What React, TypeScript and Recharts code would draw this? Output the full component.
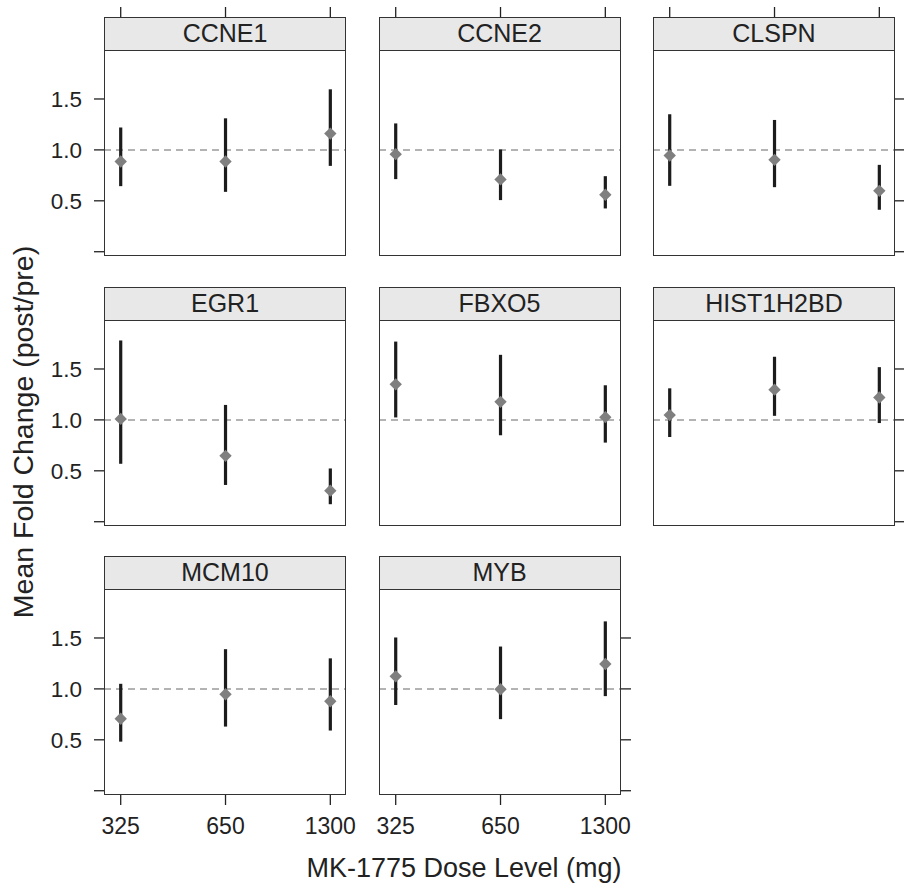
import React from "react";
import { ComposedChart, Scatter, ErrorBar, XAxis, YAxis, ReferenceLine } from "recharts";

const doses = [325, 650, 1300];
const genes = ["CCNE1", "CCNE2", "CLSPN", "EGR1", "FBXO5", "HIST1H2BD", "MCM10", "MYB"];
const means = [
  [0.886, 0.886, 1.16],
  [0.958, 0.71, 0.559],
  [0.945, 0.902, 0.598],
  [1.01, 0.647, 0.305],
  [1.349, 1.177, 1.027],
  [1.047, 1.297, 1.22],
  [0.707, 0.948, 0.878],
  [1.123, 0.997, 1.245],
];
const lower = [
  [0.644, 0.588, 0.843],
  [0.713, 0.507, 0.425],
  [0.647, 0.634, 0.412],
  [0.569, 0.361, 0.172],
  [1.024, 0.849, 0.777],
  [0.832, 1.04, 0.969],
  [0.482, 0.63, 0.591],
  [0.842, 0.703, 0.929],
];
const upper = [
  [1.22, 1.31, 1.595],
  [1.26, 1.004, 0.742],
  [1.35, 1.294, 0.853],
  [1.78, 1.147, 0.523],
  [1.769, 1.639, 1.34],
  [1.31, 1.62, 1.518],
  [1.05, 1.39, 1.3],
  [1.505, 1.416, 1.663],
];
const yTicks = [0, 0.5, 1, 1.5];

const FONT = '"Liberation Sans", Arial, Helvetica, sans-serif';
const colLeft = [104, 378.5, 653];
const rowTop = [50, 319.6, 589.2];
const PW = 242;
const PH = 206;
const STRIP = 33;
const AX_L = 70;
const AX_R = 30;
const AX_T = 45;
const AX_B = 50;

const Diamond = (p: any) => {
  const { cx, cy } = p;
  if (cx == null || cy == null) return null;
  const r = 6.2;
  return <polygon points={`${cx},${cy - r} ${cx + r},${cy} ${cx},${cy + r} ${cx - r},${cy}`} fill="#7f7f7f" />;
};

function Panel({ idx }: { idx: number }) {
  const row = Math.floor(idx / 3);
  const col = idx % 3;
  const L = colLeft[col];
  const T = rowTop[row];
  const showLeft = col === 0;
  const showRight = col === 2 || idx === genes.length - 1;
  const showTop = row === 0;
  const showBottom = row === 2;
  const data = doses.map((d, i) => ({
    dose: d,
    mean: means[idx][i],
    err: [means[idx][i] - lower[idx][i], upper[idx][i] - means[idx][i]],
  }));
  const topTick = (p: any) => (
    <line x1={p.x} x2={p.x} y1={AX_T - STRIP - 10} y2={AX_T - STRIP} stroke="#222" strokeWidth={1.3} />
  );
  const rightTick = (p: any) => (
    <line x1={AX_L + PW} x2={AX_L + PW + 10} y1={p.y} y2={p.y} stroke="#222" strokeWidth={1.3} />
  );
  return (
    <>
      <div style={{ position: "absolute", left: L - AX_L, top: T - AX_T }}>
        <ComposedChart width={AX_L + PW + AX_R} height={AX_T + PH + AX_B} data={data}
          margin={{ top: 0, right: 0, bottom: 0, left: 0 }}>
          <XAxis xAxisId="b" dataKey="dose" type="number" scale="log" domain={[291, 1442]} allowDataOverflow
            ticks={doses} orientation="bottom" height={AX_B} axisLine={false}
            tickLine={showBottom ? { stroke: "#222", strokeWidth: 1.3 } : false} tickSize={10} tickMargin={13}
            tick={showBottom ? { fontSize: 23, fill: "#222" } : false} interval={0} />
          <XAxis xAxisId="t" dataKey="dose" type="number" scale="log" domain={[291, 1442]} allowDataOverflow
            ticks={doses} orientation="top" height={AX_T} axisLine={false} tickLine={false}
            tick={showTop ? topTick : false} interval={0} />
          <YAxis yAxisId="l" type="number" domain={[-0.042, 1.981]} allowDataOverflow ticks={yTicks}
            width={AX_L} axisLine={false} tickSize={10} tickMargin={12} interval={0}
            tickLine={showLeft ? { stroke: "#222", strokeWidth: 1.3 } : false}
            tick={showLeft ? { fontSize: 22.5, fill: "#222" } : false}
            tickFormatter={(v: number) => (v === 0 ? "" : v.toFixed(1))} />
          <YAxis yAxisId="r" orientation="right" type="number" domain={[-0.042, 1.981]} allowDataOverflow
            ticks={yTicks} width={AX_R} axisLine={false} tickSize={10} interval={0}
            tickLine={false} tick={showRight ? rightTick : false} />
          <ReferenceLine xAxisId="b" yAxisId="l" y={1} stroke="#9a9a9a" strokeWidth={1.5} strokeDasharray="7 5" />
          <Scatter xAxisId="b" yAxisId="l" dataKey="mean" shape={Diamond} isAnimationActive={false}>
            <ErrorBar dataKey="err" direction="y" width={0} stroke="#1c1c1c" strokeWidth={3.2} isAnimationActive={false} />
          </Scatter>
        </ComposedChart>
      </div>
      <div style={{
        position: "absolute", left: L, top: T - STRIP, width: PW, height: PH + STRIP,
        border: "1.5px solid #333", boxSizing: "border-box", pointerEvents: "none",
      }} />
      <div style={{
        position: "absolute", left: L, top: T - STRIP, width: PW, height: STRIP + 1,
        border: "1.5px solid #333", boxSizing: "border-box", background: "#e8e8e8",
        textAlign: "center", fontSize: 25, lineHeight: `${STRIP - 2}px`, color: "#222",
      }}>{genes[idx]}</div>
    </>
  );
}

export default function App() {
  return (
    <div style={{ position: "absolute", left: 0, top: 0, width: 904, height: 889, background: "#fff", fontFamily: FONT }}>
      {genes.map((g, i) => <Panel key={g} idx={i} />)}
      <svg width={904} height={889} style={{ position: "absolute", left: 0, top: 0, pointerEvents: "none" }}>
        <text x={23} y={432} textAnchor="middle" dominantBaseline="central" fontSize={28.5} fill="#222"
          transform="rotate(-90 23 432)">Mean Fold Change (post/pre)</text>
        <text x={464} y={877} textAnchor="middle" fontSize={27} fill="#222">MK-1775 Dose Level (mg)</text>
      </svg>
    </div>
  );
}
